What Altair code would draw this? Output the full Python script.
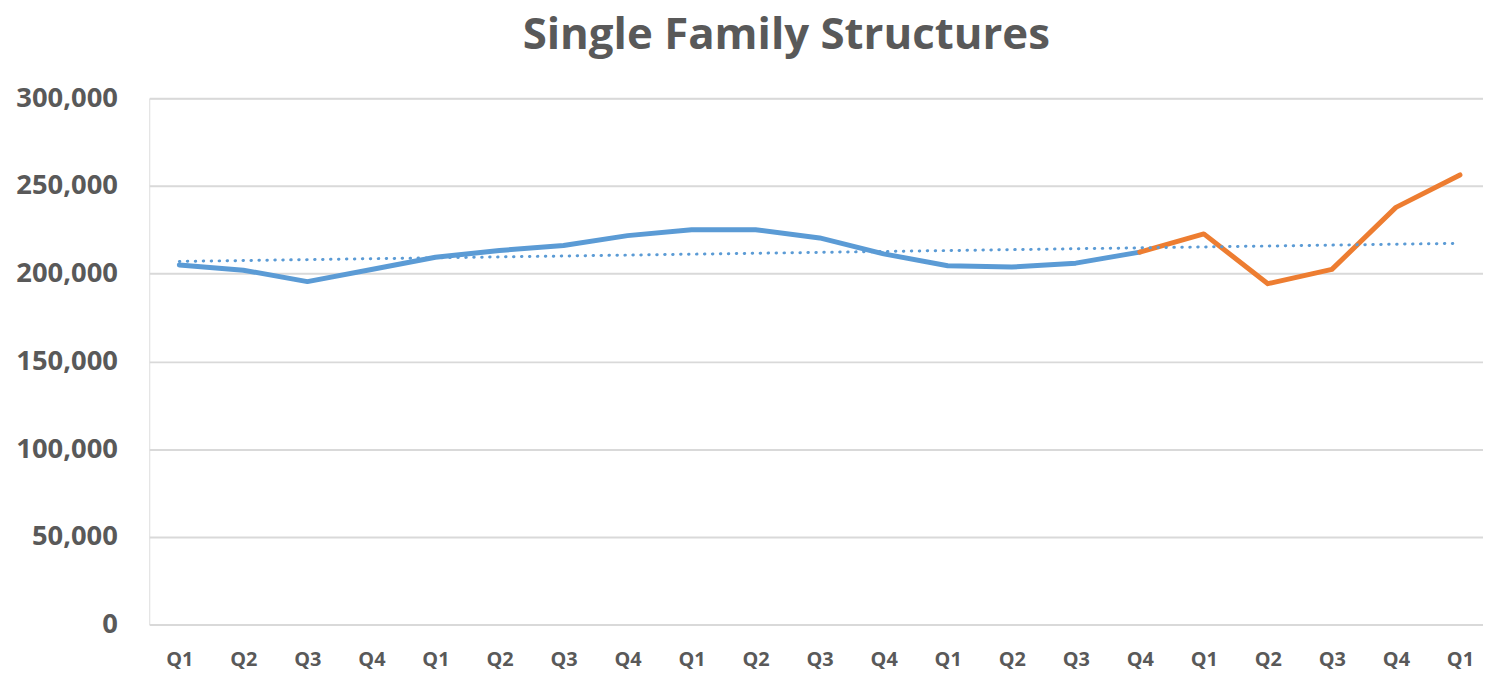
import altair as alt
import pandas as pd

# Data
quarters = ["Q1", "Q2", "Q3", "Q4"] * 5 + ["Q1"]
values = [205000, 202000, 195500, 202400, 209400, 213200, 216100, 221700,
          225100, 225100, 220400, 211300, 204500, 203800, 206000, 212300,
          222700, 194300, 202450, 237800, 256300]
last_actual = 15  # blue series runs through this index, orange continues from it
y_ticks = [0, 50000, 100000, 150000, 200000, 250000, 300000]

rows = []
for i, v in enumerate(values):
    if i <= last_actual:
        rows.append({"idx": i, "value": v, "series": "actual"})
    if i >= last_actual:
        rows.append({"idx": i, "value": v, "series": "forecast"})
df = pd.DataFrame(rows)

FONT = "Open Sans"
GRAY = "#595959"
BLUE = "#5B9BD5"
ORANGE = "#ED7D31"

label_expr = "[" + ",".join("'%s'" % q for q in quarters) + "][datum.value]"

x_enc = alt.X(
    "idx:Q",
    scale=alt.Scale(domain=[-0.47, 20.36], nice=False, zero=False),
    axis=alt.Axis(
        values=list(range(len(quarters))),
        labelExpr=label_expr,
        title=None,
        grid=False,
        domain=False,
        ticks=False,
        tickSize=0,
        labelFont=FONT,
        labelFontSize=20,
        labelFontWeight="bold",
        labelColor=GRAY,
        labelPadding=35,
        labelBaseline="middle",
    ),
)
y_enc = alt.Y(
    "value:Q",
    scale=alt.Scale(domain=[0, 300000], nice=False),
    axis=alt.Axis(
        values=y_ticks,
        format=",d",
        title=None,
        domain=False,
        ticks=False,
        tickSize=0,
        grid=True,
        gridColor="#D9D9D9",
        gridWidth=2,
        labelFont=FONT,
        labelFontSize=27.5,
        labelFontWeight="bold",
        labelColor=GRAY,
        labelPadding=32,
    ),
)

base = alt.Chart(df)

lines = base.mark_line(strokeWidth=5, strokeJoin="round", strokeCap="round").encode(
    x=x_enc,
    y=y_enc,
    color=alt.Color("series:N", scale=alt.Scale(domain=["actual", "forecast"], range=[BLUE, ORANGE]), legend=None),
    detail="series:N",
)

trend = (
    base.transform_filter(alt.datum.series == "actual")
    .transform_regression("idx", "value", extent=[0, len(values) - 1])
    .mark_line(color=BLUE, strokeWidth=3, strokeDash=[0.5, 7.5], strokeCap="round")
    .encode(x=x_enc, y=y_enc)
)

chart = (
    alt.layer(lines, trend)
    .properties(
        width=1341,
        height=529,
        autosize=alt.AutoSizeParams(type="none"),
        padding={"left": 142, "top": 89, "right": 0, "bottom": 46},
        title=alt.TitleParams(
            "Single Family Structures",
            font=FONT,
            fontSize=44,
            fontWeight="bold",
            color=GRAY,
            anchor="middle",
            dx=-30,
            offset=27,
        ),
    )
    .configure_view(stroke=None)
    .configure(background="white")
)

chart.save("out.html", embed_options={"renderer": "svg", "actions": False})
